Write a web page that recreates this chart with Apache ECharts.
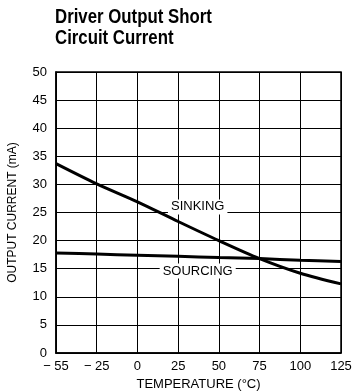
<!DOCTYPE html>
<html>
<head>
<meta charset="utf-8">
<script src="https://cdn.jsdelivr.net/npm/echarts@6/dist/echarts.min.js"></script>
<style>
  html, body { margin: 0; padding: 0; background: #fff; }
  #chart { width: 353px; height: 392px; }
</style>
</head>
<body>
<div id="chart"></div>
<script>
// temperature ticks (spaced evenly on the original chart, -55 included)
const tempLabels = ['\u2212 55', '\u2212 25', '0', '25', '50', '75', '100', '125'];
const sinking = [33.7, 30.1, 26.9, 23.4, 20.0, 16.8, 14.2, 12.3];
const sourcing = [17.8, 17.6, 17.4, 17.2, 17.0, 16.8, 16.5, 16.3];

const font = '"Liberation Sans Narrow", "Liberation Sans", Arial, sans-serif';

const chart = echarts.init(document.getElementById('chart'));

const toPts = vals => vals.map((v, i) => [i, v]);

chart.setOption({
  animation: false,
  grid: { left: 56, right: 12, top: 72, bottom: 39, outerBoundsMode: 'none', containLabel: false },
  xAxis: {
    type: 'value',
    min: 0, max: 7, interval: 1,
    name: 'TEMPERATURE (\u00b0C)',
    nameLocation: 'middle',
    nameGap: 22,
    nameTextStyle: { fontFamily: font, fontSize: 13, color: '#000' },
    axisLine: { show: true, lineStyle: { color: '#000', width: 1.5 } },
    axisTick: { show: false },
    axisLabel: {
      fontFamily: font, fontSize: 13, color: '#000', margin: 7,
      formatter: v => tempLabels[v]
    },
    splitLine: { show: true, lineStyle: { color: '#000', width: 1 } }
  },
  yAxis: {
    type: 'value',
    min: 0, max: 50, interval: 5,
    name: 'OUTPUT CURRENT (mA)',
    nameLocation: 'middle',
    nameGap: 37,
    nameTextStyle: { fontFamily: font, fontSize: 12, color: '#000' },
    axisLine: { show: true, lineStyle: { color: '#000', width: 1.5 } },
    axisTick: { show: false },
    axisLabel: { fontFamily: font, fontSize: 13, color: '#000', margin: 9 },
    splitLine: { show: true, lineStyle: { color: '#000', width: 1 } }
  },
  graphic: [
    {
      type: 'text',
      left: 55, top: 7,
      scaleX: 0.84,
      style: {
        text: 'Driver Output Short\nCircuit Current',
        fontFamily: font, fontWeight: 'bold', fontSize: 20,
        lineHeight: 21, fill: '#000'
      }
    },
    {
      type: 'rect',
      shape: { x: 56, y: 72, width: 285, height: 281 },
      style: { fill: 'none', stroke: '#000', lineWidth: 1.5 },
      silent: true
    }
  ],
  series: [
    {
      name: 'SINKING',
      type: 'line',
      data: toPts(sinking),
      smooth: 0.3,
      symbol: 'none',
      lineStyle: { color: '#000', width: 3 },
      markPoint: {
        symbol: 'rect', symbolSize: 1,
        itemStyle: { color: 'transparent' },
        data: [{ coord: [3.48, 26.0], value: 'SINKING' }],
        label: {
          show: true, position: 'inside', formatter: 'SINKING',
          fontFamily: font, fontSize: 13, color: '#000',
          backgroundColor: '#fff', padding: [1, 3]
        }
      }
    },
    {
      name: 'SOURCING',
      type: 'line',
      data: toPts(sourcing),
      smooth: 0.3,
      symbol: 'none',
      lineStyle: { color: '#000', width: 3 },
      markPoint: {
        symbol: 'rect', symbolSize: 1,
        itemStyle: { color: 'transparent' },
        data: [{ coord: [3.48, 14.6], value: 'SOURCING' }],
        label: {
          show: true, position: 'inside', formatter: 'SOURCING',
          fontFamily: font, fontSize: 13, color: '#000',
          backgroundColor: '#fff', padding: [1, 3]
        }
      }
    }
  ]
});
</script>
</body>
</html>
